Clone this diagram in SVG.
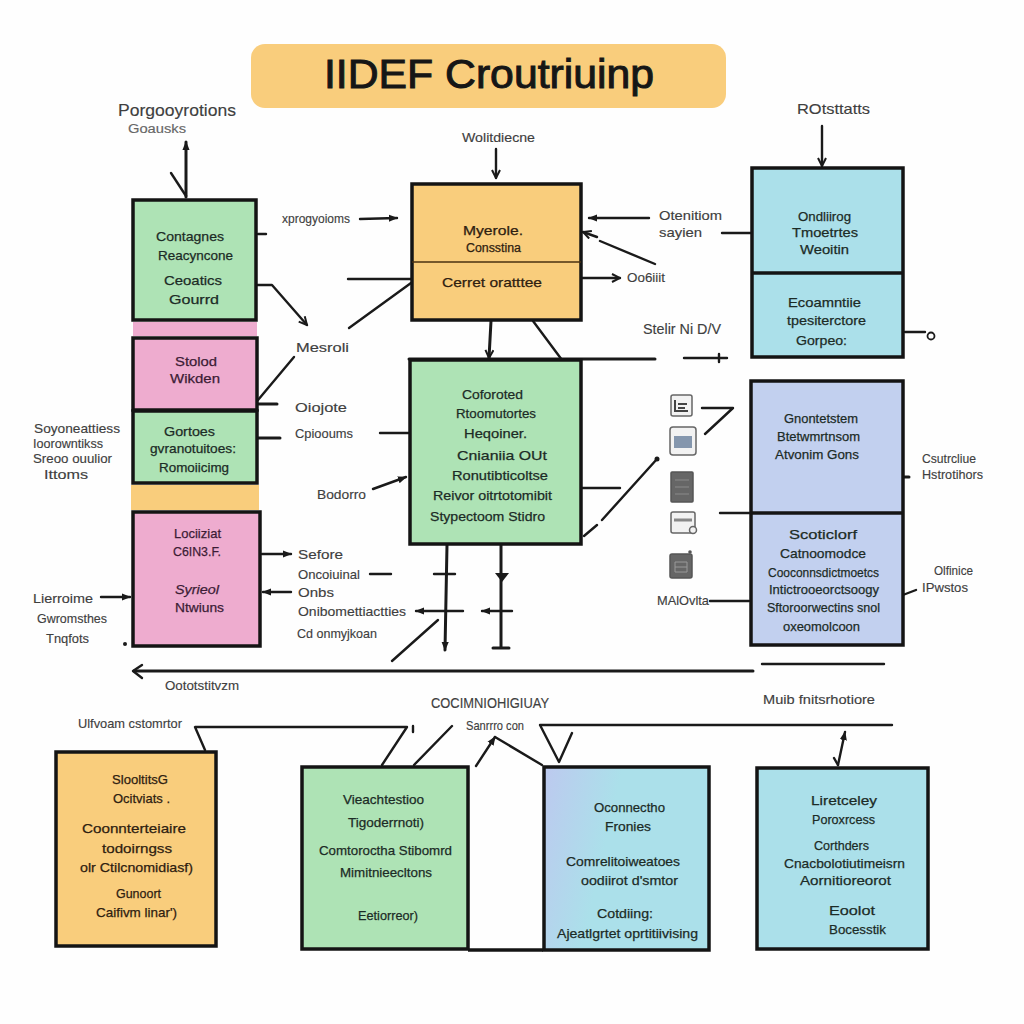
<svg xmlns="http://www.w3.org/2000/svg" width="1024" height="1024" viewBox="0 0 1024 1024">
<style>
text{font-family:"Liberation Sans","DejaVu Sans",sans-serif}
.b{stroke:#141414;stroke-width:3.5}
.d{fill:none;stroke:#141414;stroke-width:3.5}
.d1{fill:none;stroke:#4a3010;stroke-width:1.5}
.g{fill:#aee3b5}.p{fill:#eeaccf}.y{fill:#f9cd7c}.c{fill:#abe0ea}.v{fill:#c2d0ef}
.n{font-size:13.5px;fill:#1c2b26;stroke:#1c2b26;stroke-width:.25}
.l{font-size:13px;fill:#3f3f3f;stroke:#3f3f3f;stroke-width:.15}
.m{fill:none;stroke:#1a1a1a;stroke-width:2.4;stroke-linecap:round;stroke-linejoin:round}
.t{stroke-width:3}
.i{fill:#f2f2f2;stroke:#666;stroke-width:1.5}
.k{fill:#666;stroke:#555;stroke-width:1.5}
</style>
<defs>
<marker id="a" viewBox="0 0 10 10" refX="9" refY="5" markerWidth="10" markerHeight="10" markerUnits="userSpaceOnUse" orient="auto"><path d="M1 1L9 5L1 9" fill="none" stroke="#1a1a1a" stroke-width="2"/></marker>
<marker id="f" viewBox="0 0 10 10" refX="9" refY="5" markerWidth="9" markerHeight="9" markerUnits="userSpaceOnUse" orient="auto"><path d="M0 1L10 5L0 9Z" fill="#1a1a1a"/></marker>
<linearGradient id="gr" x1="0" y1="0" x2="1" y2="0.25"><stop offset="0" stop-color="#bdc9ef"/><stop offset="0.45" stop-color="#abe0ea"/></linearGradient>
</defs>
<rect width="1024" height="1024" fill="#fefefe"/>
<g id="title"><rect x="251" y="44" width="475" height="64" rx="14" class="y"/><text x="324" y="88" font-size="41" textLength="330" lengthAdjust="spacingAndGlyphs" style="fill:#161616;stroke:#161616;stroke-width:1">IIDEF Croutriuinp</text></g>
<g id="connectors">
<path class="m t" d="M186 197V142" marker-end="url(#f)"/><path class="m" d="M171 173L186 196"/>
<path class="m" d="M258 234H266"/><path class="m" d="M257 285H272L307 325" marker-end="url(#a)"/>
<path class="m" d="M360 219L397 218" marker-end="url(#f)"/><path class="m" d="M411 279H348"/><path class="m" d="M411 283L349 328"/>
<path class="m" d="M258 400L294 357"/><path class="m t" d="M258 404H277"/><path class="m t" d="M258 438H280"/>
<path class="m" d="M409 433L380 433"/><path class="m" d="M373 489L406 477" marker-end="url(#f)"/>
<path class="m" d="M262 554H291" marker-end="url(#f)"/><path class="m" d="M370 574H391"/><path class="m" d="M291 592H263" marker-end="url(#f)"/><path class="m" d="M101 597H130" marker-end="url(#f)"/>
<circle cx="125" cy="644" r="2" fill="#1a1a1a"/>
<path class="m t" d="M134 671H753"/><path class="m" d="M142 665L133 671L142 678"/><path class="m" d="M762 664H884"/>
<path class="m" d="M392 661L438 620"/>
<path class="m t" d="M447 545L445 650" marker-end="url(#f)"/><path class="m" d="M434 574H455"/><path class="m" d="M463 611H416" marker-end="url(#f)"/>
<path class="m t" d="M501 545V647"/><path d="M495 573H509L502 582Z" fill="#1a1a1a"/><path class="m" d="M512 611H482" marker-end="url(#f)"/><path class="m t" d="M493 648H509"/>
<path class="m" d="M582 488H620"/><path class="m" d="M584 536L597 525M602 520L657 459"/><circle cx="657" cy="459" r="2.5" fill="#1a1a1a"/>
<path class="m t" d="M409 359H655"/><path class="m" d="M684 358H727M719 354V362"/>
<path class="m t" d="M491 321L489 358" marker-end="url(#a)"/><path class="m" d="M533 321L562 360"/>
<path class="m" d="M496 149V178" marker-end="url(#a)"/>
<path class="m" d="M649 218H589" marker-end="url(#f)"/><path class="m" d="M600 241L655 264"/><path class="m" d="M597 237L583 232" marker-end="url(#a)"/>
<path class="m" d="M582 278H620" marker-end="url(#a)"/><path class="m" d="M722 233H751"/>
<path class="m" d="M822 126V166" marker-end="url(#a)"/>
<path class="m" d="M905 332H925"/><circle cx="931" cy="336" r="3.5" fill="none" stroke="#1a1a1a" stroke-width="1.8"/>
<path class="m" d="M702 408H733L705 434"/><path class="m" d="M720 513H750"/><path class="m" d="M710 601H749"/>
<path class="m t" d="M904 477H909"/><path class="m" d="M916 590L895 598M890 586L897 589"/>
<path class="m" d="M205 750L195 727H407L382 765"/><path class="m" d="M413 726V732"/><path class="m" d="M452 726L414 765"/>
<path class="m" d="M476 766L495 737" marker-end="url(#f)"/><path class="m" d="M495 737L542 765"/>
<path class="m" d="M892 725H540L559 762L572 733"/>
<path class="m" d="M838 765L845 732" marker-end="url(#f)"/><path class="m" d="M834 758L838 765"/>
<path class="d" d="M468 950H543"/>
</g>
<g id="node-green-1"><rect x="133" y="200" width="123" height="120" class="g b"/>
<text class="n" x="156" y="241" textLength="68" lengthAdjust="spacingAndGlyphs">Contagnes</text><text class="n" x="158" y="260" textLength="75" lengthAdjust="spacingAndGlyphs">Reacyncone</text><text class="n" x="164" y="285" textLength="58" lengthAdjust="spacingAndGlyphs">Ceoatics</text><text class="n" x="169" y="304" textLength="50" lengthAdjust="spacingAndGlyphs">Gourrd</text></g>
<g id="strips"><rect x="133" y="322" width="124" height="14" class="p"/><rect x="131" y="485" width="128" height="25" class="y"/></g>
<g id="node-pink-1"><rect x="133" y="338" width="124" height="72" class="p b"/>
<text class="n" x="175" y="366" textLength="42" lengthAdjust="spacingAndGlyphs" style="fill:#3c1c35;stroke:#3c1c35">Stolod</text><text class="n" x="170" y="383" textLength="50" lengthAdjust="spacingAndGlyphs" style="fill:#3c1c35;stroke:#3c1c35">Wikden</text></g>
<g id="node-green-2"><rect x="133" y="411" width="124" height="72" class="g b"/>
<text class="n" x="164" y="436" textLength="51" lengthAdjust="spacingAndGlyphs">Gortoes</text><text class="n" x="150" y="453" textLength="86" lengthAdjust="spacingAndGlyphs">gvranotuitoes:</text><text class="n" x="159" y="472" textLength="70" lengthAdjust="spacingAndGlyphs">Romoiicimg</text></g>
<g id="node-pink-2"><rect x="133" y="512" width="127" height="134" class="p b"/>
<text class="n" x="174" y="538" textLength="47" lengthAdjust="spacingAndGlyphs" style="fill:#3c1c35;stroke:#3c1c35">Lociiziat</text><text class="n" x="173" y="556" textLength="48" lengthAdjust="spacingAndGlyphs" style="fill:#3c1c35;stroke:#3c1c35">C6IN3.F.</text><text class="n" x="175" y="594" textLength="44" lengthAdjust="spacingAndGlyphs" style="fill:#3c1c35;stroke:#3c1c35;font-style:italic">Syrieol</text><text class="n" x="175" y="612" textLength="49" lengthAdjust="spacingAndGlyphs" style="fill:#3c1c35;stroke:#3c1c35">Ntwiuns</text></g>
<g id="node-yellow"><rect x="412" y="184" width="169" height="136" class="y b"/><path class="d1" d="M412 262H581"/>
<text class="n" x="463" y="235" textLength="60" lengthAdjust="spacingAndGlyphs" style="fill:#2e2010;stroke:#2e2010">Myerole.</text><text class="n" x="466" y="252" textLength="55" lengthAdjust="spacingAndGlyphs" style="fill:#2e2010;stroke:#2e2010;font-size:12px">Consstina</text><text class="n" x="442" y="287" textLength="100" lengthAdjust="spacingAndGlyphs" style="fill:#2e2010;stroke:#2e2010">Cerret oratttee</text></g>
<g id="node-green-big"><rect x="410" y="360" width="171" height="184" class="g b"/>
<text class="n" x="462" y="399" textLength="61" lengthAdjust="spacingAndGlyphs">Coforoted</text><text class="n" x="456" y="418" textLength="80" lengthAdjust="spacingAndGlyphs">Rtoomutortes</text><text class="n" x="464" y="438" textLength="63" lengthAdjust="spacingAndGlyphs">Heqoiner.</text><text class="n" x="457" y="460" textLength="90" lengthAdjust="spacingAndGlyphs">Cnianiia OUt</text><text class="n" x="452" y="480" textLength="96" lengthAdjust="spacingAndGlyphs">Ronutibticoltse</text><text class="n" x="433" y="500" textLength="119" lengthAdjust="spacingAndGlyphs">Reivor oitrtotomibit</text><text class="n" x="430" y="521" textLength="115" lengthAdjust="spacingAndGlyphs">Stypectoom Stidro</text></g>
<g id="node-blue-top"><rect x="752" y="168" width="151" height="189" class="c b"/><path class="d" d="M752 273H903"/>
<text class="n" x="798" y="221" textLength="53" lengthAdjust="spacingAndGlyphs">Ondliirog</text><text class="n" x="792" y="237" textLength="66" lengthAdjust="spacingAndGlyphs">Tmoetrtes</text><text class="n" x="800" y="254" textLength="49" lengthAdjust="spacingAndGlyphs">Weoitin</text><text class="n" x="788" y="307" textLength="73" lengthAdjust="spacingAndGlyphs">Ecoamntiie</text><text class="n" x="787" y="325" textLength="79" lengthAdjust="spacingAndGlyphs">tpesiterctore</text><text class="n" x="796" y="345" textLength="51" lengthAdjust="spacingAndGlyphs">Gorpeo:</text></g>
<g id="node-periwinkle"><rect x="751" y="381" width="152" height="264" class="v b"/><path class="d" d="M751 513H903"/>
<text class="n" x="784" y="423" textLength="74" lengthAdjust="spacingAndGlyphs">Gnontetstem</text><text class="n" x="777" y="441" textLength="83" lengthAdjust="spacingAndGlyphs">Btetwmrtnsom</text><text class="n" x="775" y="459" textLength="84" lengthAdjust="spacingAndGlyphs">Atvonim Gons</text><text class="n" x="789" y="539" textLength="68" lengthAdjust="spacingAndGlyphs">Scoticlorf</text><text class="n" x="780" y="558" textLength="86" lengthAdjust="spacingAndGlyphs">Catnoomodce</text><text class="n" x="768" y="577" textLength="111" lengthAdjust="spacingAndGlyphs">Cooconnsdictmoetcs</text><text class="n" x="769" y="594" textLength="110" lengthAdjust="spacingAndGlyphs">Intictrooeorctsoogy</text><text class="n" x="767" y="612" textLength="113" lengthAdjust="spacingAndGlyphs">Sftoroorwectins snol</text><text class="n" x="783" y="631" textLength="77" lengthAdjust="spacingAndGlyphs">oxeomolcoon</text></g>
<g id="icons">
<rect x="671" y="395" width="21" height="21" rx="2" class="i"/><path d="M675 400V411H688M678 404H687M678 408H685" fill="none" stroke="#444" stroke-width="2"/>
<rect x="670" y="427" width="26" height="28" rx="3" class="i"/><rect x="674" y="436" width="18" height="12" fill="#8496ad"/>
<rect x="671" y="472" width="22" height="30" rx="1" class="k"/><path d="M675 480H689M675 487H689M675 494H689" stroke="#8a8a8a"/>
<rect x="671" y="512" width="24" height="21" rx="2" class="i"/><path d="M674 520H692" stroke="#888" stroke-width="3"/><circle cx="693" cy="530" r="3.5" class="i"/>
<rect x="670" y="554" width="22" height="24" rx="2" class="k"/><path d="M675 562H687V572H675ZM675 567H687" fill="none" stroke="#999"/><circle cx="690" cy="552" r="1.8" fill="#555"/>
</g>
<g id="node-orange-bottom"><rect x="56" y="752" width="160" height="194" class="y b"/>
<text class="n" x="112" y="784" textLength="56" lengthAdjust="spacingAndGlyphs" style="fill:#2e2010;stroke:#2e2010">SlooltitsG</text><text class="n" x="113" y="803" textLength="57" lengthAdjust="spacingAndGlyphs" style="fill:#2e2010;stroke:#2e2010">Ocitviats .</text><text class="n" x="82" y="833" textLength="104" lengthAdjust="spacingAndGlyphs" style="fill:#2e2010;stroke:#2e2010">Coonnterteiaire</text><text class="n" x="102" y="853" textLength="70" lengthAdjust="spacingAndGlyphs" style="fill:#2e2010;stroke:#2e2010">todoirngss</text><text class="n" x="80" y="872" textLength="113" lengthAdjust="spacingAndGlyphs" style="fill:#2e2010;stroke:#2e2010">olr Ctilcnomidiasf)</text><text class="n" x="116" y="898" textLength="45" lengthAdjust="spacingAndGlyphs" style="fill:#2e2010;stroke:#2e2010">Gunoort</text><text class="n" x="96" y="917" textLength="81" lengthAdjust="spacingAndGlyphs" style="fill:#2e2010;stroke:#2e2010">Caifivm linar')</text></g>
<g id="node-green-bottom"><rect x="302" y="767" width="166" height="182" class="g b"/>
<text class="n" x="343" y="804" textLength="81" lengthAdjust="spacingAndGlyphs">Vieachtestioo</text><text class="n" x="348" y="827" textLength="76" lengthAdjust="spacingAndGlyphs">Tigoderrnoti)</text><text class="n" x="319" y="855" textLength="133" lengthAdjust="spacingAndGlyphs">Comtoroctha Stibomrd</text><text class="n" x="340" y="877" textLength="92" lengthAdjust="spacingAndGlyphs">Mimitnieecltons</text><text class="n" x="358" y="920" textLength="60" lengthAdjust="spacingAndGlyphs">Eetiorreor)</text></g>
<g id="node-blue-gradient"><rect x="544" y="767" width="165" height="183" fill="url(#gr)" class="b"/>
<text class="n" x="594" y="812" textLength="71" lengthAdjust="spacingAndGlyphs">Oconnectho</text><text class="n" x="605" y="831" textLength="46" lengthAdjust="spacingAndGlyphs">Fronies</text><text class="n" x="566" y="866" textLength="114" lengthAdjust="spacingAndGlyphs">Comrelitoiweatoes</text><text class="n" x="581" y="885" textLength="97" lengthAdjust="spacingAndGlyphs">oodiirot d'smtor</text><text class="n" x="597" y="918" textLength="56" lengthAdjust="spacingAndGlyphs">Cotdiing:</text><text class="n" x="557" y="938" textLength="141" lengthAdjust="spacingAndGlyphs">Ajeatlgrtet oprtitiivising</text></g>
<g id="node-blue-bottom"><rect x="757" y="768" width="171" height="181" class="c b"/>
<text class="n" x="811" y="805" textLength="66" lengthAdjust="spacingAndGlyphs">Liretceley</text><text class="n" x="812" y="824" textLength="63" lengthAdjust="spacingAndGlyphs">Poroxrcess</text><text class="n" x="814" y="850" textLength="55" lengthAdjust="spacingAndGlyphs">Corthders</text><text class="n" x="784" y="868" textLength="121" lengthAdjust="spacingAndGlyphs">Cnacbolotiutimeisrn</text><text class="n" x="800" y="885" textLength="91" lengthAdjust="spacingAndGlyphs">Aornitioreorot</text><text class="n" x="829" y="915" textLength="46" lengthAdjust="spacingAndGlyphs">Eoolot</text><text class="n" x="829" y="934" textLength="57" lengthAdjust="spacingAndGlyphs">Bocesstik</text></g>
<g id="labels">
<text class="l" x="118" y="116" textLength="118" lengthAdjust="spacingAndGlyphs" style="font-size:17px">Porgooyrotions</text><text class="l" x="128" y="133" textLength="58" lengthAdjust="spacingAndGlyphs" style="font-size:12px;fill:#666;stroke:#666">Goausks</text>
<text class="l" x="282" y="223" textLength="68" lengthAdjust="spacingAndGlyphs">xprogyoioms</text><text class="l" x="296" y="352" textLength="53" lengthAdjust="spacingAndGlyphs">Mesroli</text>
<text class="l" x="34" y="433" textLength="86" lengthAdjust="spacingAndGlyphs">Soyoneattiess</text><text class="l" x="33" y="448" textLength="70" lengthAdjust="spacingAndGlyphs">Ioorowntikss</text><text class="l" x="33" y="463" textLength="79" lengthAdjust="spacingAndGlyphs">Sreoo ouulior</text><text class="l" x="44" y="479" textLength="44" lengthAdjust="spacingAndGlyphs">Ittoms</text>
<text class="l" x="295" y="412" textLength="52" lengthAdjust="spacingAndGlyphs">Oiojote</text><text class="l" x="295" y="438" textLength="58" lengthAdjust="spacingAndGlyphs">Cpiooums</text><text class="l" x="317" y="499" textLength="49" lengthAdjust="spacingAndGlyphs">Bodorro</text>
<text class="l" x="298" y="559" textLength="45" lengthAdjust="spacingAndGlyphs">Sefore</text><text class="l" x="298" y="579" textLength="62" lengthAdjust="spacingAndGlyphs">Oncoiuinal</text><text class="l" x="298" y="597" textLength="36" lengthAdjust="spacingAndGlyphs">Onbs</text><text class="l" x="298" y="616" textLength="108" lengthAdjust="spacingAndGlyphs">Onibomettiactties</text><text class="l" x="297" y="638" textLength="80" lengthAdjust="spacingAndGlyphs">Cd onmyjkoan</text>
<text class="l" x="33" y="603" textLength="60" lengthAdjust="spacingAndGlyphs">Lierroime</text><text class="l" x="37" y="623" textLength="70" lengthAdjust="spacingAndGlyphs">Gwromsthes</text><text class="l" x="46" y="643" textLength="43" lengthAdjust="spacingAndGlyphs">Tnqfots</text>
<text class="l" x="165" y="690" textLength="74" lengthAdjust="spacingAndGlyphs">Oototstitvzm</text>
<text class="l" x="462" y="142" textLength="73" lengthAdjust="spacingAndGlyphs">Wolitdiecne</text><text class="l" x="659" y="220" textLength="63" lengthAdjust="spacingAndGlyphs">Otenitiom</text><text class="l" x="659" y="237" textLength="43" lengthAdjust="spacingAndGlyphs">sayien</text><text class="l" x="627" y="282" textLength="38" lengthAdjust="spacingAndGlyphs">Oo6iiit</text><text class="l" x="643" y="334" textLength="78" lengthAdjust="spacingAndGlyphs" style="font-size:14px">Stelir Ni D/V</text>
<text class="l" x="797" y="114" textLength="73" lengthAdjust="spacingAndGlyphs" style="font-size:15px">ROtsttatts</text>
<text class="l" x="922" y="463" textLength="54" lengthAdjust="spacingAndGlyphs">Csutrcliue</text><text class="l" x="922" y="479" textLength="61" lengthAdjust="spacingAndGlyphs">Hstrotihors</text><text class="l" x="934" y="575" textLength="39" lengthAdjust="spacingAndGlyphs">Olfinice</text><text class="l" x="922" y="592" textLength="46" lengthAdjust="spacingAndGlyphs">IPwstos</text><text class="l" x="657" y="605" textLength="52" lengthAdjust="spacingAndGlyphs">MAlOvlta</text>
<text class="l" x="78" y="728" textLength="104" lengthAdjust="spacingAndGlyphs">Ulfvoam cstomrtor</text><text class="l" x="431" y="708" textLength="118" lengthAdjust="spacingAndGlyphs" style="font-size:14px">COCIMNIOHIGIUAY</text><text class="l" x="466" y="730" textLength="58" lengthAdjust="spacingAndGlyphs">Sanrrro con</text><text class="l" x="763" y="704" textLength="112" lengthAdjust="spacingAndGlyphs">Muib fnitsrhotiore</text>
</g>
</svg>
